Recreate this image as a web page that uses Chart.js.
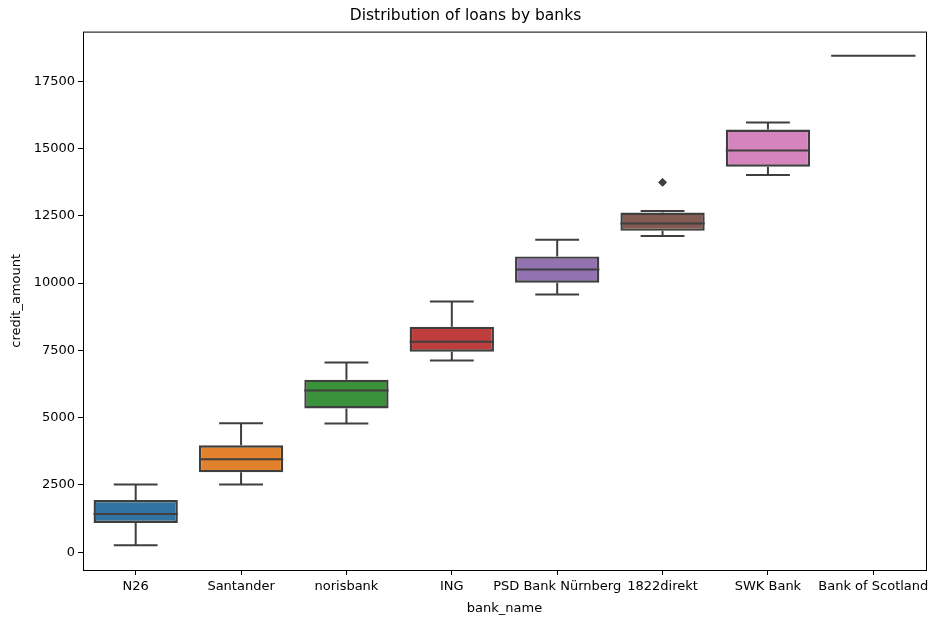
<!DOCTYPE html>
<html>
<head>
<meta charset="utf-8">
<script src="https://cdn.jsdelivr.net/npm/chart.js@4.4.1/dist/chart.umd.min.js"></script>
<style>
  html, body { margin: 0; padding: 0; background: #fff; }
  #wrap { width: 951px; height: 624px; }
</style>
</head>
<body>
<div id="wrap"><canvas id="canvas1" width="951" height="624"></canvas></div>
<script>
// data
const banks = ['N26', 'Santander', 'norisbank', 'ING', 'PSD Bank Nürnberg', '1822direkt', 'SWK Bank', 'Bank of Scotland']
const whiskerLow = [260, 2520, 4780, 7120, 9570, 11750, 14010, 18440]
const q1 = [1090, 2970, 5340, 7450, 10010, 11940, 14320, 18440]
const median = [1420, 3450, 6010, 7820, 10500, 12210, 14920, 18440]
const q3 = [1940, 3970, 6410, 8380, 10990, 12620, 15700, 18440]
const whiskerHigh = [2520, 4790, 7050, 9310, 11610, 12680, 15960, 18440]
const outliers = [null, null, null, null, null, 13740, null, null]
const yTicks = [0, 2500, 5000, 7500, 10000, 12500, 15000, 17500]
const colors = ['#3274a1', '#e1812c', '#3a923a', '#c03d3e', '#9372b2', '#845b53', '#d684bd', '#7f7f7f']

const lineCol = '#3f3f3f'

const boxes = []
for (let i = 0; i < banks.length; i++) {
  boxes.push([q1[i], q3[i]])
}

// whiskers, caps, medians and the frame
const boxPlugin = {
  id: 'boxbits',
  afterDatasetsDraw(chart) {
    const ctx = chart.ctx
    const x = chart.scales.x
    const y = chart.scales.y
    const meta = chart.getDatasetMeta(0)
    ctx.save()
    ctx.strokeStyle = lineCol
    ctx.lineWidth = 2
    for (let i = 0; i < banks.length; i++) {
      const cx = x.getPixelForValue(i)
      const bw = meta.data[i].width
      const cap = bw * 0.26
      ctx.beginPath()
      ctx.moveTo(cx, y.getPixelForValue(q3[i]))
      ctx.lineTo(cx, y.getPixelForValue(whiskerHigh[i]))
      ctx.moveTo(cx - cap, y.getPixelForValue(whiskerHigh[i]))
      ctx.lineTo(cx + cap, y.getPixelForValue(whiskerHigh[i]))
      ctx.moveTo(cx, y.getPixelForValue(q1[i]))
      ctx.lineTo(cx, y.getPixelForValue(whiskerLow[i]))
      ctx.moveTo(cx - cap, y.getPixelForValue(whiskerLow[i]))
      ctx.lineTo(cx + cap, y.getPixelForValue(whiskerLow[i]))
      ctx.moveTo(cx - bw / 2, y.getPixelForValue(median[i]))
      ctx.lineTo(cx + bw / 2, y.getPixelForValue(median[i]))
      ctx.stroke()
    }
    const a = chart.chartArea
    ctx.strokeStyle = '#000'
    ctx.lineWidth = 1
    ctx.strokeRect(a.left + 0.5, a.top + 0.5, a.right - a.left, a.bottom - a.top)
    ctx.restore()
  }
}

const ctx1 = document.getElementById('canvas1').getContext('2d')
const font = 'DejaVu Sans'

new Chart(ctx1, {
  type: 'bar',
  data: {
    labels: banks,
    datasets: [{
      data: boxes,
      backgroundColor: colors,
      borderColor: lineCol,
      borderWidth: 2.4,
      borderSkipped: false,
      categoryPercentage: 0.8,
      barPercentage: 1
    }, {
      type: 'line',
      data: outliers,
      showLine: false,
      pointStyle: 'rectRot',
      pointRadius: 4,
      pointBackgroundColor: lineCol,
      pointBorderColor: lineCol
    }]
  },
  options: {
    responsive: false,
    animation: false,
    layout: { padding: { left: 5, right: 25, bottom: 0, top: 0 } },
    plugins: {
      legend: { display: false },
      tooltip: { enabled: false },
      title: {
        display: true,
        text: 'Distribution of loans by banks',
        color: '#000',
        font: { family: font, size: 15.5, weight: 'normal', lineHeight: 1.2 },
        padding: { top: 7, bottom: 6 }
      }
    },
    scales: {
      x: {
        afterFit: s => { s.height = 54 },
        grid: { offset: false, drawOnChartArea: false, tickLength: 5, tickColor: '#000' },
        border: { display: false },
        ticks: { color: '#000', autoSkip: false, maxRotation: 0, padding: 4, font: { family: font, size: 13 } },
        title: { display: true, text: 'bank_name', color: '#000', padding: { top: 0, bottom: 8 }, font: { family: font, size: 13 } }
      },
      y: {
        min: -660,
        max: 19340,
        afterFit: s => { s.width = 78 },
        afterBuildTicks: s => { s.ticks = yTicks.map(v => ({ value: v })) },
        grid: { drawOnChartArea: false, tickLength: 5, tickColor: '#000' },
        border: { display: false },
        ticks: { color: '#000', padding: 3, font: { family: font, size: 13 }, callback: v => String(v) },
        title: { display: true, text: 'credit_amount', color: '#000', font: { family: font, size: 13 } }
      }
    }
  },
  plugins: [boxPlugin]
})
</script>
</body>
</html>
